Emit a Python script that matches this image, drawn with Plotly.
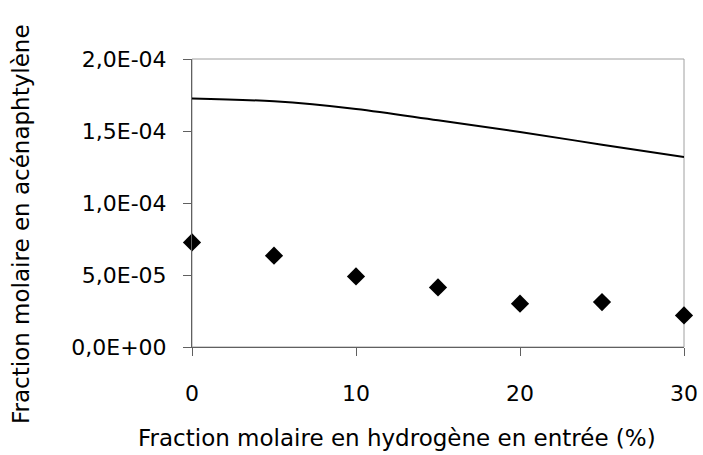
import plotly.graph_objects as go

# Inlet hydrogen mole fraction (%)
h2_inlet = [0, 5, 10, 15, 20, 25, 30]

# Measured acenaphthylene mole fraction
measured = [7.26e-5, 6.34e-5, 4.90e-5, 4.14e-5, 3.01e-5, 3.12e-5, 2.19e-5]

# Simulated acenaphthylene mole fraction
model_x = [0, 5, 10, 15, 20, 25, 30]
model_y = [1.726e-4, 1.706e-4, 1.653e-4, 1.574e-4, 1.493e-4, 1.405e-4, 1.319e-4]

y_ticks = [0, 5e-5, 1e-4, 1.5e-4, 2e-4]
y_tick_labels = ["0,0E+00", "5,0E-05", "1,0E-04", "1,5E-04", "2,0E-04"]
x_ticks = [0, 10, 20, 30]

x_title = "Fraction molaire en hydrogène en entrée (%)"
y_title = "Fraction molaire en acénaphtylène"

FONT = "DejaVu Sans"
W, H = 703, 455
L, R, T, B = 192, 19, 59, 108
PW, PH = W - L - R, H - T - B

fig = go.Figure()
fig.add_trace(go.Scatter(
    x=model_x, y=model_y, mode="lines",
    line=dict(color="black", width=2, shape="spline"),
    showlegend=False, cliponaxis=False,
))
fig.add_trace(go.Scatter(
    x=h2_inlet, y=measured, mode="markers",
    marker=dict(symbol="diamond", size=14, color="black"),
    showlegend=False, cliponaxis=False,
))

fig.update_layout(
    width=W, height=H,
    margin=dict(l=L, r=R, t=T, b=B, autoexpand=False),
    paper_bgcolor="white", plot_bgcolor="white",
    font=dict(family=FONT, size=22, color="black"),
    shapes=[dict(type="rect", xref="paper", yref="paper", x0=0, y0=0, x1=1, y1=1,
                 line=dict(color="#a0a0a0", width=1), layer="below")],
    annotations=[
        # axis titles placed in pixel terms relative to the plot area
        dict(text=x_title, xref="paper", yref="paper",
             x=(397 - L) / PW, y=-(438 - (T + PH)) / PH,
             xanchor="center", yanchor="middle", showarrow=False,
             font=dict(size=23)),
        dict(text=y_title, xref="paper", yref="paper", textangle=-90,
             x=(21 - L) / PW, y=((T + PH) - 224) / PH,
             xanchor="center", yanchor="middle", showarrow=False,
             font=dict(size=23)),
    ],
)
fig.update_xaxes(
    range=[0, 30], tickvals=x_ticks, showgrid=False, zeroline=False,
    showline=True, linecolor="#606060", linewidth=1, automargin=False,
    ticks="outside", ticklen=8, tickcolor="#606060",
    tickfont=dict(size=22), ticklabelstandoff=19,
)
fig.update_yaxes(
    range=[0, 2e-4], tickvals=y_ticks, ticktext=y_tick_labels, showgrid=False, zeroline=False,
    showline=True, linecolor="#606060", linewidth=1, automargin=False,
    ticks="outside", ticklen=8, tickcolor="#606060",
    tickfont=dict(size=22), ticklabelstandoff=12,
)

fig.write_html("out.html")
